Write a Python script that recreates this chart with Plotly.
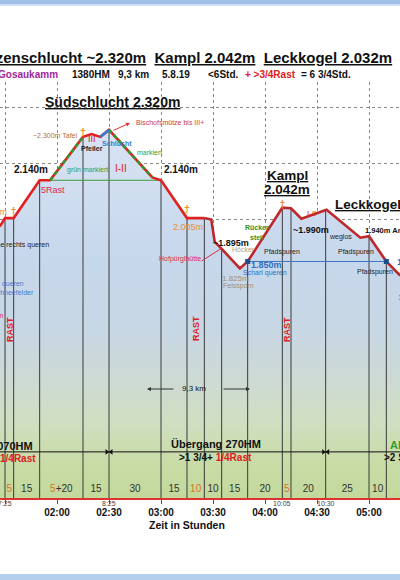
import numpy as np
import plotly.graph_objects as go

W, H = 400, 580
PLOT_TOP, PLOT_BOT = 82, 498
FONT = "Liberation Sans, Arial, sans-serif"

# ---------------- data ----------------
# elevation profile: time (minutes since start) and elevation (m)
prof_t = [87, 90, 95, 110, 116, 135, 140, 145, 150, 175, 180, 195, 205,
          209, 211, 215, 225.5, 230, 250, 255, 261, 275.5, 295, 300, 310, 318]
prof_e = [1975, 2005, 2005, 2140, 2140, 2295, 2305, 2295, 2320, 2150, 2140, 2005, 2005,
          2000, 1920, 1895, 1825, 1850, 2042, 2040, 2003, 2035, 1935, 1940, 1850, 1800]

# waypoints (vertical lines) and segment durations
way_t = [90, 95, 110, 135, 150, 180, 195, 205, 215, 230, 250, 255, 275, 300, 310, 327]
seg_rest = [5, 0, 5, 0, 0, 0, 10, 0, 0, 0, 5, 0, 0, 0, 0]
seg_walk = [0, 15, 20, 15, 30, 15, 0, 10, 15, 20, 0, 20, 25, 10, 20]

tick_vals = [90, 120, 150, 180, 210, 240, 270, 300]
tick_text = ["01:30", "02:00", "02:30", "03:00", "03:30", "04:00", "04:30", "05:00"]

clock_t = [90, 150, 250, 275]
clock_txt = ["7:25", "8:25", "10:05", "10:30"]

pin_t = [95, 135, 195, 250]
pin_e = [2026, 2309, 2034, 2052]

green_ranges = [(116, 135), (150, 175)]
blue_ranges = [(145, 150)]
green_flat_t = [116, 180]
green_flat_e = 2140
blue_flat_t = [230, 310]
blue_flat_e = 1850
section_line_e = 1170
section_bounds = [150, 275]

X_RANGE = [87.115, 317.885]
Y_RANGE = [1005.3, 2491]

# ---------------- figure ----------------
fig = go.Figure()

# gradient fill under profile
fig.add_trace(go.Scatter(x=[prof_t[0], prof_t[-1]], y=[Y_RANGE[0], Y_RANGE[0]],
                         mode="lines", line=dict(width=0), hoverinfo="skip"))
fig.add_trace(go.Scatter(
    x=prof_t, y=prof_e, mode="lines", line=dict(width=0), fill="tonexty",
    fillgradient=dict(type="vertical", start=Y_RANGE[0], stop=2320,
                      colorscale=[[0, "#c3d99b"], [0.1, "#c9dca8"], [0.2, "#d0dfc0"],
                                  [0.32, "#cddad4"], [0.45, "#c8d7e4"], [0.65, "#c7d7ec"],
                                  [1, "#d8e4f4"]]),
    hoverinfo="skip"))

# vertical waypoint lines
vt = [t for t in way_t if t <= prof_t[-1]]
ve = np.interp(vt, prof_t, prof_e)
vx, vy = [], []
for t, e in zip(vt, ve):
    vx += [t, t, None]
    vy += [Y_RANGE[0], e, None]
fig.add_trace(go.Scatter(x=vx, y=vy, mode="lines", line=dict(color="#3a3a3a", width=1),
                         hoverinfo="skip"))

# horizontal helper lines
fig.add_trace(go.Scatter(x=green_flat_t, y=[green_flat_e] * 2, mode="lines",
                         line=dict(color="#3c9a3c", width=1)))
fig.add_trace(go.Scatter(x=blue_flat_t, y=[blue_flat_e] * 2, mode="lines",
                         line=dict(color="#3b78c0", width=1)))
fig.add_trace(go.Scatter(x=X_RANGE, y=[section_line_e] * 2, mode="lines",
                         line=dict(color="#111", width=1)))
fig.add_trace(go.Scatter(x=[b - 1.3 for b in section_bounds], y=[section_line_e] * 2, mode="markers",
                         marker=dict(symbol="triangle-right", size=5, color="#111")))
fig.add_trace(go.Scatter(x=[b + 1.3 for b in section_bounds], y=[section_line_e] * 2, mode="markers",
                         marker=dict(symbol="triangle-left", size=5, color="#111")))

# profile line
split = prof_t.index(205)
fig.add_trace(go.Scatter(x=prof_t[:split + 1], y=prof_e[:split + 1], mode="lines",
                         line=dict(color="#e2201f", width=2.6)))
fig.add_trace(go.Scatter(x=prof_t[split:], y=prof_e[split:], mode="lines",
                         line=dict(color="#c0272b", width=2.6)))
for a, b in green_ranges:
    xs = [t for t in prof_t if a <= t <= b]
    ys = [e for t, e in zip(prof_t, prof_e) if a <= t <= b]
    fig.add_trace(go.Scatter(x=xs, y=ys, mode="lines",
                             line=dict(color="#2f9a34", width=2.6, dash="4px,3px")))
for a, b in blue_ranges:
    xs = [t for t in prof_t if a <= t <= b]
    ys = [e for t, e in zip(prof_t, prof_e) if a <= t <= b]
    fig.add_trace(go.Scatter(x=xs, y=ys, mode="lines", line=dict(color="#3d7cc9", width=2.6)))

fig.add_trace(go.Scatter(x=blue_flat_t, y=[blue_flat_e] * 2, mode="markers",
                         marker=dict(symbol="square", size=5, color="#1f4e8c")))
fig.add_trace(go.Scatter(x=pin_t, y=pin_e, mode="text", text=["<b>†</b>"] * len(pin_t),
                         textfont=dict(size=11, color="#e8902a", family=FONT)))

# segment duration labels
seg_txt, seg_mid = [], []
for i in range(len(seg_walk)):
    parts = []
    if seg_rest[i]:
        parts.append(f'<span style="color:#e0702a">{seg_rest[i]}</span>')
    if seg_walk[i]:
        parts.append(str(seg_walk[i]))
    seg_txt.append("+".join(parts))
    seg_mid.append((way_t[i] + way_t[i + 1]) / 2)
fig.add_trace(go.Scatter(x=seg_mid, y=[1034] * len(seg_mid), mode="text", text=seg_txt,
                         textfont=dict(size=10, color="#333", family=FONT), cliponaxis=False))

# ---------------- annotations ----------------
anns = []


def px(X):
    return X / W


def py(Y):
    return (PLOT_BOT - Y) / (PLOT_BOT - PLOT_TOP)


def A(text, X, Y, size=7, color="#222", bold=False, xanchor="center", angle=0, u=False):
    t = text
    if u:
        t = f"<u>{t}</u>"
    if bold:
        t = f"<b>{t}</b>"
    anns.append(dict(text=t, x=px(X), y=py(Y), xref="paper", yref="paper",
                     xanchor=xanchor, yanchor="middle", showarrow=False, textangle=angle,
                     font=dict(size=size, color=color, family=FONT)))


NB = "\u00a0"
A(f"<u>Mützenschlucht ~2.320m</u>{NB}{NB}<u>Kampl 2.042m</u>{NB}{NB}<u>Leckkogel 2.032m</u>",
  394, 58, size=15, color="#111", bold=True, xanchor="right")
A("Gosaukamm", 60, 75, 10, "#a0289c", True, "right")
A("1380HM", 91, 75, 10, "#111", True)
A("9,3 km", 133, 75, 10, "#111", True)
A("5.8.19", 176, 75, 10, "#111", True)
A("&lt;6Std.", 223, 75, 10, "#111", True)
A("+ &gt;3/4Rast", 270, 75, 10, "#e02020", True)
A("= 6 3/4Std.", 326, 75, 10, "#111", True)

A("Südschlucht 2.320m", 112, 102, 14, "#111", True, u=True)
A("Kampl", 287, 175, 13.5, "#111", True, u=True)
A("2.042m", 287, 189, 13.5, "#111", True, u=True)
A("Leckkogel 2.032m", 333, 204, 13.5, "#111", True, "left", u=True)

A("~2.300m Tafel", 55, 135, 7, "#b8702e")
A("III", 92, 139, 9, "#e02020")
A("Pfeiler", 92, 148, 7, "#222", True)
A("Schlucht", 117, 143, 7, "#3d7cc9", True)
A("Bischofsmütze bis III+", 134, 122, 7, "#d03a3a", False, "left")
A("markiert", 149, 153, 7, "#3a9a3a")
A("grün markiert", 87, 170, 7, "#3a9a3a")
A("I-II", 121, 168, 10, "#e02020")
A("2.140m", 31, 169, 10, "#111", True)
A("2.140m", 181, 169, 10, "#111", True)
A("5Rast", 53, 190, 9, "#e0284a")
A("2.005m", 188, 227, 9, "#e8903a")
A("2.005m", 9, 212, 9, "#e8903a", False, "right")
A("Rinne rechts queren", 51, 245, 7, "#222", False, "right")
A("links queren", 26, 284, 7, "#3d7cc9", False, "right")
A("Schneefelder", 36, 292, 7, "#3d7cc9", False, "right")
A("1.950m", 6, 315, 7, "#e0284a", False, "right")
A("RAST", 10, 330, 9, "#e02020", True, angle=-90)
A("RAST", 196, 329, 9, "#e02020", True, angle=-90)
A("RAST", 287, 330, 9, "#e02020", True, angle=-90)
A("Hofpürglhütte", 180, 259, 7, "#e0284a")
A("~1.895m", 231, 243, 9, "#111", True)
A("Höcker", 243, 249, 7, "#b4a078")
A("Rücken", 257, 227, 7, "#2f9030", True)
A("steil", 257, 237, 7, "#2f9030", True)
A("Pfadspuren", 282, 252, 7, "#222")
A("1.850m", 266, 265, 9, "#2f6fbf", True)
A("Scharl queren", 265, 273, 7, "#2f6fbf")
A("1.825m", 235, 278, 8, "#a09070")
A("Felssporn", 238, 286, 7, "#a09070")
A("~1.990m", 311, 230, 9, "#111", True)
A("I-II", 311, 213, 8, "#e02020")
A("weglos", 340, 237, 7, "#222")
A("1.940m Anstieg", 363, 231, 7.5, "#111", True, "left")
A("Pfadspuren", 356, 252, 7, "#222")
A("Pfadspuren", 375, 272, 7, "#222")
A("1.850m", 395, 262, 9, "#2f6fbf", True, "left")
A("1.700m", 396, 297, 8, "#2f6fbf", False, "left")
A("9,3 km", 194, 388, 8, "#111")
A("Aufstieg 1070HM", 35, 446, 11, "#111", True, "right")
A("1/4Rast", 38, 458, 10, "#e02020", True, "right")
A("Übergang 270HM", 216, 444, 11, "#111", True)
A('&gt;1 3/4+ <span style="color:#e02020">1/4Rast</span>', 215, 457, 10, "#111", True)
A("Abstieg 520HM", 388, 445, 11, "#2f9f2f", True, "left")
A("&gt;2 Std.", 382, 457, 10, "#111", True, "left")
A("Zeit in Stunden", 187, 525, 10.5, "#111", True)

# arrows
anns.append(dict(x=px(130), y=py(123), ax=-18, ay=8, text="", showarrow=True, xref="paper", yref="paper",
                 arrowhead=2, arrowsize=0.8, arrowwidth=1, arrowcolor="#d03a3a"))
anns.append(dict(x=px(222), y=py(248), ax=-22, ay=14, text="", showarrow=True, xref="paper", yref="paper",
                 arrowhead=0, arrowwidth=1, arrowcolor="#e0284a"))
anns.append(dict(x=px(147), y=py(389), ax=28, ay=0, text="", showarrow=True, xref="paper", yref="paper",
                 arrowhead=2, arrowsize=0.8, arrowwidth=1, arrowcolor="#333"))
anns.append(dict(x=px(250), y=py(389), ax=-28, ay=0, text="", showarrow=True, xref="paper", yref="paper",
                 arrowhead=2, arrowsize=0.8, arrowwidth=1, arrowcolor="#333"))

# clock time labels
for t, c in zip(clock_t, clock_txt):
    anns.append(dict(x=t, xref="x", y=py(503), yref="paper", text=c, showarrow=False,
                     font=dict(size=7, color="#444", family=FONT), yanchor="middle"))

shapes = [
    dict(type="rect", xref="paper", yref="paper", x0=0, x1=1, y0=py(4), y1=py(0), line_width=0,
         fillcolor="#9fc0ea", layer="above"),
    dict(type="rect", xref="paper", yref="paper", x0=0, x1=1, y0=py(6), y1=py(4), line_width=0,
         fillcolor="#d0e1f5", layer="above"),
    dict(type="rect", xref="paper", yref="paper", x0=0, x1=1, y0=py(580), y1=py(574), line_width=0,
         fillcolor="#b4cfee", layer="above"),
]

fig.update_layout(
    width=W, height=H, margin=dict(l=0, r=0, t=PLOT_TOP, b=H - PLOT_BOT),
    paper_bgcolor="white", plot_bgcolor="white", showlegend=False,
    font=dict(family=FONT), annotations=anns, shapes=shapes,
)
fig.update_xaxes(range=X_RANGE, tickvals=tick_vals, ticktext=[f"<b>{t}</b>" for t in tick_text],
                 showgrid=True, gridcolor="#8a8a8a", griddash="dot", gridwidth=1,
                 showline=True, linecolor="#e03030", linewidth=1.5,
                 ticks="outside", ticklen=4, tickcolor="#555",
                 tickfont=dict(size=10, color="#111", family=FONT), zeroline=False)
fig.update_yaxes(range=Y_RANGE, tickvals=[2000, 2200, 2400], showticklabels=False,
                 showgrid=True, gridcolor="#8a8a8a", griddash="dot", gridwidth=1,
                 zeroline=False, showline=False, ticks="")

fig.write_html("out.html", config={"displayModeBar": False},
               post_script="document.body.style.margin='0';document.body.style.overflow='hidden';")
